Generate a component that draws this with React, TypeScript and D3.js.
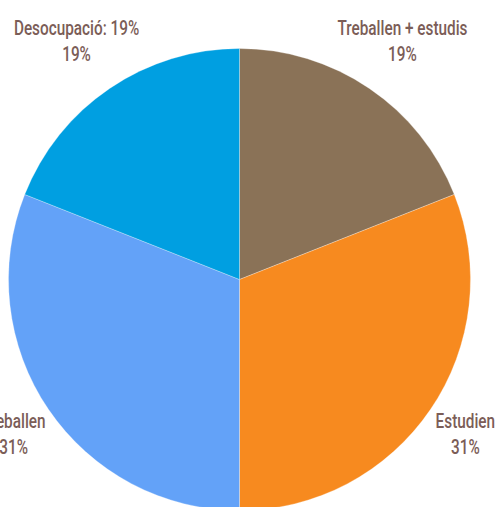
import React from "react";
import * as d3 from "d3";

const categories = ["Treballen + estudis", "Estudien", "Treballen", "Desocupació: 19%"];
const values = [19, 31, 31, 19];
const percentLabels = ["19%", "31%", "31%", "19%"];
const colors = ["#8A7257", "#F78A1F", "#63A2F8", "#009FE1"];

const W = 497;
const H = 507;
const cx = 239.5;
const cy = 279.5;
const R = 231;

const FONT = "Roboto, 'Noto Sans', sans-serif";

export default function App() {
  const pie = d3.pie<number>().sort(null).value((d) => d);
  const arcs = pie(values);
  const arcGen = d3.arc<d3.PieArcDatum<number>>().innerRadius(0).outerRadius(R);

  return (
    <svg
      width={W}
      height={H}
      style={{ position: "absolute", left: 0, top: 0, display: "block" }}
    >
      <g transform={`translate(${cx},${cy})`}>
        {arcs.map((a, i) => (
          <path key={i} d={arcGen(a) || ""} fill={colors[i]} stroke="#ffffff" strokeWidth={0.35} strokeOpacity={0.8} />
        ))}
        {arcs.map((a, i) => {
          const mid = (a.startAngle + a.endAngle) / 2;
          const dx = Math.sin(mid);
          const dy = -Math.cos(mid);
          const lr = dy < 0 ? R * 1.255 : R * 1.182;
          const x = dx * lr;
          const y = dy * lr;
          return (
            <g key={"l" + i} transform={`translate(${x},${y}) scale(0.73,1)`}>
              <text
                x={0}
                y={-5}
                textAnchor="middle"
                fontFamily={FONT}
                fontSize={21}
                fontWeight={500}
                fill="#7B5D57"
              >
                {categories[i]}
              </text>
              <text
                x={0}
                y={21}
                textAnchor="middle"
                fontFamily={FONT}
                fontSize={21}
                fontWeight={500}
                fill="#7B5D57"
              >
                {percentLabels[i]}
              </text>
            </g>
          );
        })}
      </g>
    </svg>
  );
}
